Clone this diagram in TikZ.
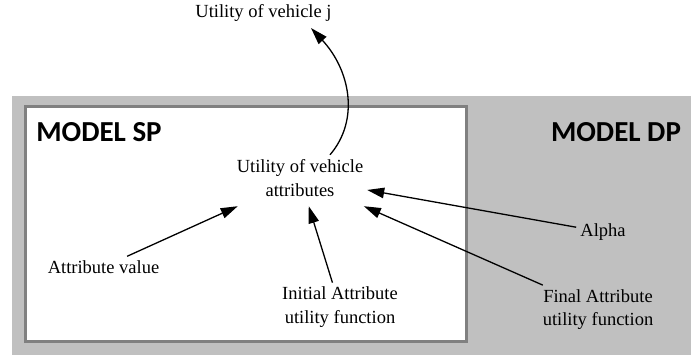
\documentclass[tikz,border=0pt]{standalone}
\usepackage{fontspec}
\setmainfont{Liberation Serif}
\newfontfamily\boldsans{Carlito}
\usetikzlibrary{arrows.meta}
\definecolor{bggray}{RGB}{192,192,192}
\definecolor{bordergray}{RGB}{128,128,128}
\begin{document}
\begin{tikzpicture}[x=1pt,y=-1pt,
  lbl/.style={font=\fontsize{18.5}{23.5}\selectfont, align=center, inner sep=4pt},
  title/.style={font=\boldsans\bfseries\fontsize{29}{30}\selectfont, inner sep=0pt},
  arr/.style={-{Triangle[length=17pt,width=10.5pt]}, line width=1.3pt}]
\useasboundingbox (0,0) rectangle (691,358);
\fill[bggray] (12,96) rectangle (691,355);
\draw[bordergray, fill=white, line width=3pt] (25.5,106.5) rectangle (466.5,341.5);
\node[title] (sp) at (99,132) {MODEL SP};
\node[title] (dp) at (616,132) {MODEL DP};
\node[lbl] (uj) at (263.5,13) {Utility of vehicle j};
\node[lbl, minimum width=134pt, minimum height=56pt, inner sep=0pt] (cen) at (300,178) {Utility of vehicle\\attributes};
\node[lbl] (av) at (103.5,267) {Attribute value};
\node[lbl] (ini) at (340,307) {Initial Attribute\\utility function};
\node[lbl] (al) at (603,232) {Alpha};
\node[lbl] (fin) at (598,309.5) {Final Attribute\\utility function};
\draw[arr] (av) -- (cen);
\draw[arr] (ini) -- (cen);
\draw[arr] (al) -- (cen);
\draw[arr] (fin) -- (cen);
\draw[arr] ([xshift=30pt,yshift=-5pt]cen.north) .. controls +(30,-35) and +(39,42) .. ([xshift=47.5pt,yshift=-15pt]uj.center);
\end{tikzpicture}
\end{document}
